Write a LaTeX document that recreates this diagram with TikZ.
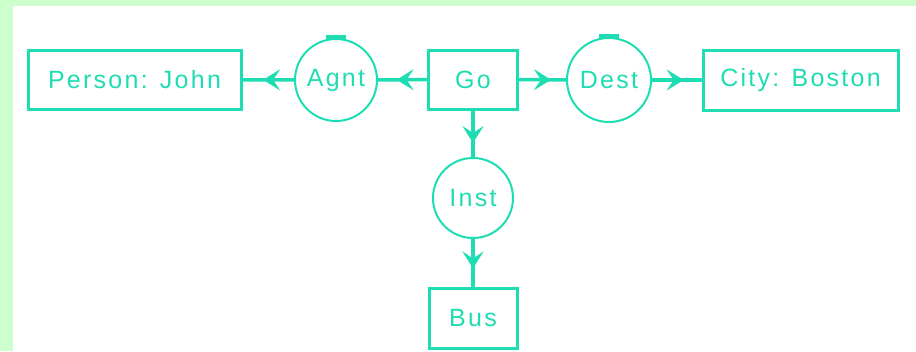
\documentclass[tikz,border=0pt]{standalone}
\usepackage{fontspec}
\setmainfont{Liberation Sans}[LetterSpace=9]
\usetikzlibrary{arrows.meta,decorations.markings}
\definecolor{cg}{HTML}{1FDDB2}
\definecolor{bggreen}{HTML}{CCFFCC}
\begin{document}
\begin{tikzpicture}[x=1pt,y=-1pt,
  lbl/.style={text=cg, font=\fontsize{25}{25}\selectfont, inner sep=0pt},
  box/.style={lbl, draw=cg, line width=3pt, rectangle},
  rel/.style={lbl, draw=cg, line width=2pt, circle},
  conn/.style={draw=cg, line width=3.5pt, postaction={decorate},
    decoration={markings, mark=at position #1 with {\arrow{Stealth[length=17pt,width=21pt,inset=7pt]}}}},
  conn/.default=0.62,
  topbar/.style={draw=cg, line width=3.5pt}
]
\useasboundingbox (0,0) rectangle (916,351);
\fill[bggreen] (0,0) rectangle (916,351);
\fill[white] (13,6) rectangle (916,351);

\node[box, minimum width=213pt, minimum height=59pt] (person) at (134.5,79.5) {Person: John};
\node[rel, minimum size=82pt] (agnt) at (336,80) {Agnt};
\node[box, minimum width=89pt, minimum height=59pt] (go) at (473,79.5) {Go};
\node[rel, minimum size=84pt] (dest) at (609,80) {Dest};
\node[box, minimum width=195pt, minimum height=60pt] (city) at (800.5,80) {City: Boston};
\node[rel, minimum size=80pt] (inst) at (473,198) {Inst};
\node[box, minimum width=88pt, minimum height=60pt] (bus) at (473,318) {Bus};

\draw[topbar] ([xshift=-10pt,yshift=1pt]agnt.north) -- ([xshift=10pt,yshift=1pt]agnt.north);
\draw[topbar] ([xshift=-10pt,yshift=1pt]dest.north) -- ([xshift=10pt,yshift=1pt]dest.north);

\draw[conn=0.6] (agnt) -- (person);
\draw[conn=0.62] (go) -- (agnt);
\draw[conn=0.68] (go) -- (dest);
\draw[conn=0.64] (dest) -- (city);
\draw[conn=0.7] (go) -- (inst);
\draw[conn=0.62] (inst) -- (bus);
\end{tikzpicture}
\end{document}
